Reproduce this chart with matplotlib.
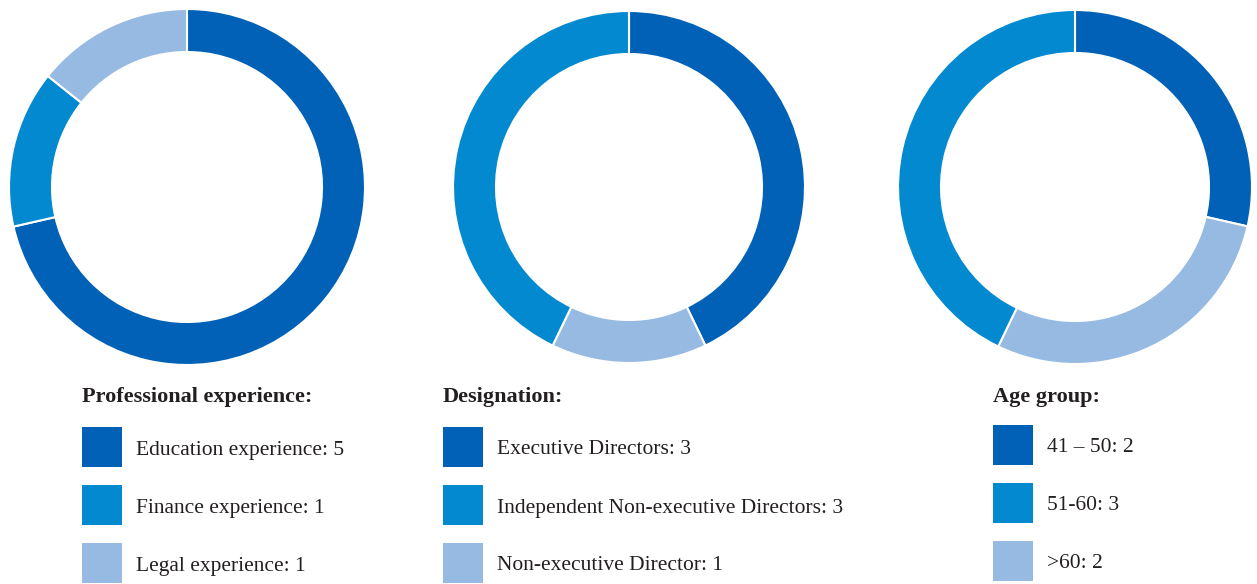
import matplotlib
matplotlib.use("Agg")
import matplotlib.pyplot as plt
from matplotlib.patches import Rectangle

# data
titles = ["Professional experience:", "Designation:", "Age group:"]
labels_prof = ["Education experience: 5", "Finance experience: 1", "Legal experience: 1"]
labels_desig = ["Executive Directors: 3", "Independent Non-executive Directors: 3", "Non-executive Director: 1"]
labels_age = ["41 \u2013 50: 2", "51-60: 3", ">60: 2"]
vals_prof = [5, 1, 1]
vals_desig = [3, 3, 1]
vals_age = [2, 3, 2]

dark, mid, light = "#0061B7", "#0389CF", "#97BAE2"
colors = [dark, mid, light]
# clockwise drawing order of wedges (index into series)
order_prof = [0, 1, 2]
order_desig = [0, 2, 1]
order_age = [0, 2, 1]

txt = "#231F20"
plt.rcParams["font.family"] = ["Liberation Serif", "DejaVu Serif"]

W, H = 1257, 584
fig = plt.figure(figsize=(W / 100, H / 100), dpi=100)

def px_axes(x0, y0, x1, y1):
    return fig.add_axes([x0 / W, 1 - y1 / H, (x1 - x0) / W, (y1 - y0) / H])

donuts = [
    (187, 187, 178, vals_prof, order_prof),
    (629, 187, 176, vals_desig, order_desig),
    (1075, 187, 177, vals_age, order_age),
]
for cx, cy, r, vals, order in donuts:
    ax = px_axes(cx - r, cy - r, cx + r, cy + r)
    ax.pie([vals[i] for i in order], colors=[colors[i] for i in order],
           startangle=90, counterclock=False, radius=1,
           wedgeprops=dict(width=43 / r, edgecolor="white", linewidth=1.5))
    ax.set_xlim(-1, 1)
    ax.set_ylim(-1, 1)
    ax.set_aspect("equal")
    ax.axis("off")

# legends on an overlay in pixel coordinates
lg = fig.add_axes([0, 0, 1, 1])
lg.set_xlim(0, W)
lg.set_ylim(H, 0)
lg.axis("off")
legend_x = [82, 443, 993]
all_labels = [labels_prof, labels_desig, labels_age]
row_y = [[447, 505, 563], [447, 505, 563], [445, 503, 561]]
for x, title, labs, ys in zip(legend_x, titles, all_labels, row_y):
    lg.text(x, 397, title, fontsize=16, fontweight="bold", color=txt, va="center", ha="left")
    for lab, c, y in zip(labs, colors, ys):
        lg.add_patch(Rectangle((x, y - 20), 40, 40, facecolor=c, edgecolor="none"))
        lg.text(x + 54, y + 3, lab, fontsize=15.5, color=txt, va="center", ha="left")

fig.savefig("out.png", dpi=100)
